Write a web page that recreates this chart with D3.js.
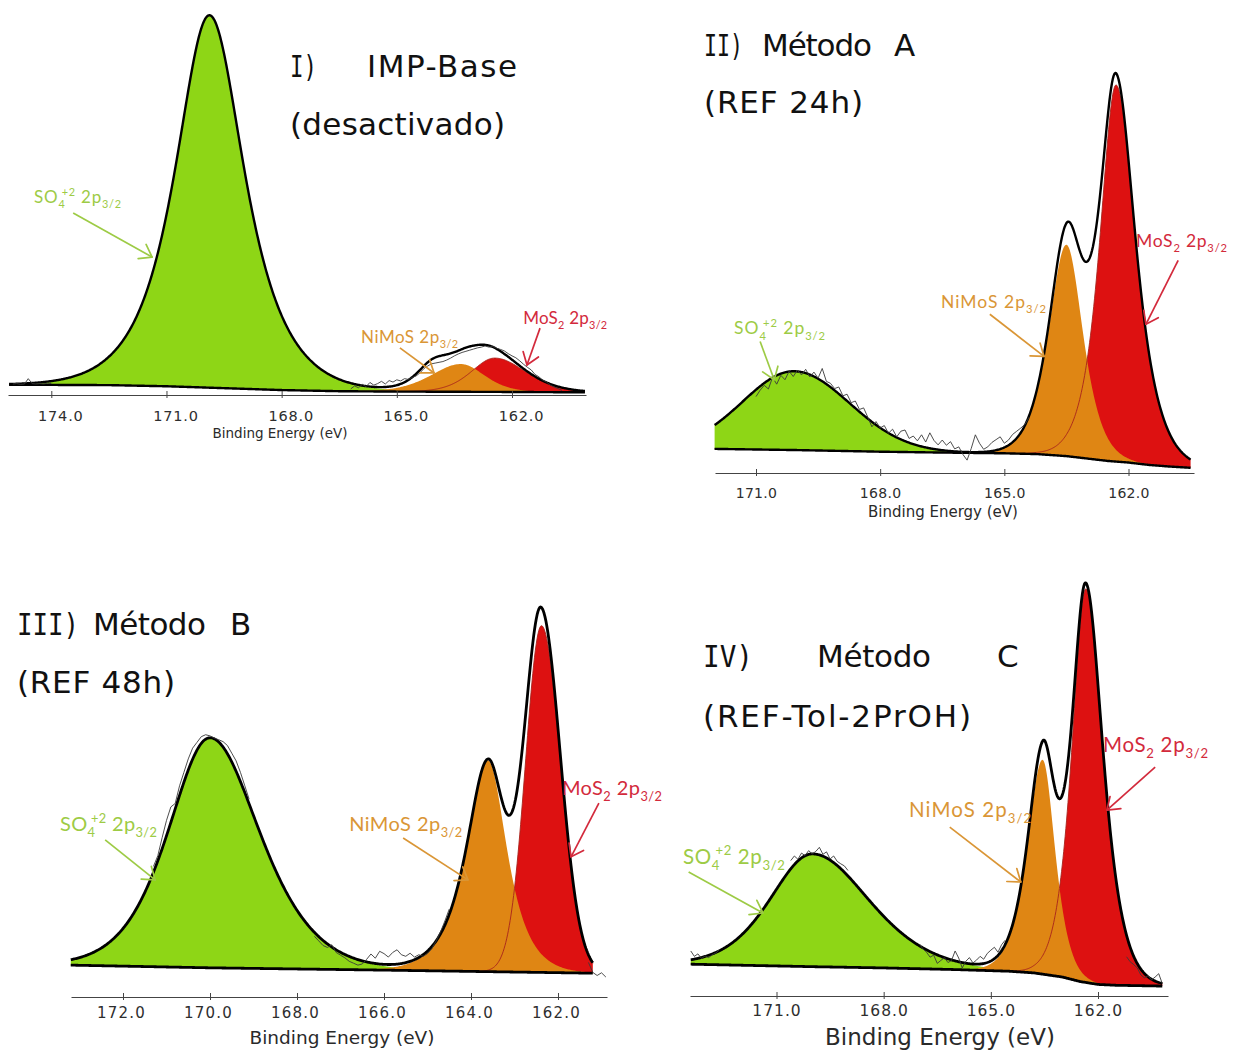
<!DOCTYPE html>
<html>
<head>
<meta charset="utf-8">
<script src="https://cdn.jsdelivr.net/npm/d3@7"></script>
<style>
  body { margin: 0; background: #fff; }
  svg { display: block; }
</style>
</head>
<body>
<svg id="fig" width="1235" height="1050"></svg>
<script>
// Binding energy in eV, intensity in a.u. (100 = tallest point of each panel)

// ---------- I) IMP-Base (desactivado)
const p1Ticks = [174, 171, 168, 165, 162];
const p1Range = [175.1, 160.1];
const p1Background = [[175.1, 2.7], [172.5, 2.6], [171, 2.3], [169.5, 1.8], [168, 1.3], [166.5, 1.0], [165, 0.9], [162, 0.8], [160.1, 0.7]];
const p1Peaks = [
  { kind: "SO4",   center: 169.88, height: 98,  wHigh: 2.15, wLow: 2.2, mix: 0.8 },
  { kind: "NiMoS", center: 163.33, height: 7.3, wHigh: 1.9,  wLow: 1.5, mix: 0.5 },
  { kind: "MoS2",  center: 162.45, height: 8.9, wHigh: 1.5,  wLow: 2.0, mix: 0.5 },
  { kind: "extra", center: 164.1,  height: 3.5, wHigh: 0.9,  wLow: 0.9, mix: 0.5 }
];
const p1Raw = [
  { start: 175.0, values: [2.9, 3.0, 2.8, 2.9, 4.3, 3.0, 2.9, 3.0, 2.9, 3.1, 3.0] },
  { start: 166.2, values: [1.6, 2.4, 1.9, 2.8, 2.2, 3.3, 2.6, 3.0, 3.6, 2.9, 3.8, 3.4, 4.0, 3.7, 4.3, 4.1, 4.6, 5.0, 5.8, 6.9,
                           7.6, 8.2, 8.4, 8.6, 8.8, 9.2, 9.7, 10.3, 10.8, 11.2, 11.5, 11.8, 12.1, 12.4, 12.6, 12.9, 12.6, 12.8, 12.3, 12.0,
                           11.6, 10.9, 10.3, 9.8, 9.0, 8.1, 7.3, 6.6, 5.4, 4.8, 3.9, 3.4, 2.6, 2.1, 1.7, 1.2] }
];

// ---------- II) Método A (REF 24h)
const p2Ticks = [171, 168, 165, 162];
const p2Range = [172.0, 160.5];
const p2Background = [[172.0, 6.0], [170, 5.7], [168, 5.3], [166.6, 5.1], [165, 4.9], [164.2, 4.7], [163.5, 4.2], [163, 3.6], [162.5, 3.0], [162, 2.6], [161.5, 2.0], [161, 1.6], [160.5, 1.3]];
const p2Peaks = [
  { kind: "SO4",   center: 170.08, height: 19.6, wHigh: 2.95, wLow: 3.2,  mix: 0.05 },
  { kind: "NiMoS", center: 163.5,  height: 52.6, wHigh: 1.05, wLow: 0.98, mix: 0.7 },
  { kind: "MoS2",  center: 162.3,  height: 93.7, wHigh: 0.95, wLow: 1.15, mix: 0.75 }
];
const p2Raw = [
  { start: 171.0, values: [19.0, 20.6, 21.8, 20.9, 23.8, 22.1, 24.3, 23.2, 25.3, 24.0, 25.6, 24.4, 25.8, 23.9, 25.1, 23.6, 26.0, 22.8, 22.3, 21.0,
                           21.4, 19.2, 19.6, 17.5, 17.9, 15.8, 16.2, 13.9, 11.5, 12.8, 11.2, 11.8, 9.9, 10.9, 9.0, 10.4, 10.7, 8.6, 9.2, 8.0,
                           9.5, 7.7, 10.0, 8.1, 7.0, 8.2, 6.9, 7.8, 6.0, 6.5, 4.6, 3.2, 6.1, 9.5, 7.4, 5.9, 6.5, 7.6, 8.3, 9.0,
                           7.4, 8.2, 9.6, 10.4, 11.2, 12.1, 13.9] }
];

// ---------- III) Método B (REF 48h)
const p3Ticks = [172, 170, 168, 166, 164, 162];
const p3Range = [173.2, 161.2];
const p3Background = [[173.2, 8.3], [170, 7.6], [166, 7.0], [163, 6.5], [161.2, 6.2]];
const p3Peaks = [
  { kind: "SO4",   center: 170.0,  height: 59.9, wHigh: 2.35, wLow: 2.8,  mix: 0.6 },
  { kind: "NiMoS", center: 163.61, height: 55,   wHigh: 1.2,  wLow: 1.05, mix: 0.8 },
  { kind: "MoS2",  center: 162.38, height: 90.3, wHigh: 0.88, wLow: 1.05, mix: 0.1 }
];
const p3Raw = [
  { start: 171.3, values: [34, 36.8, 41.5, 46, 49.5, 50.4, 55, 58.5, 62, 64.8, 66.3, 67.8, 68.3, 68, 67.4, 67.0, 66.5, 65.5, 63.5, 61.5, 58.5, 55, 51.5] },
  { start: 167.6, values: [15.8, 14.6, 13.4, 12.9, 13.6, 11.6, 10.9, 10.2, 9.3, 8.8, 8.3, 8.6, 9.8, 11.2, 10.1, 11.9, 11.3, 10.4, 11.6, 12.3,
                           11.0, 10.6, 11.4, 10.4, 11.0, 10.6, 11.3, 12.6, 14.6, 17.0, 19.8, 22.9] },
  { start: 161.3, values: [9.0, 6.4, 5.6, 6.3, 5.2] }
];

// ---------- IV) Método C (REF-Tol-2PrOH)
const p4Ticks = [171, 168, 165, 162];
const p4Range = [173.4, 160.2];
const p4Background = [[173.4, 7.7], [170, 7.1], [168, 6.8], [166, 6.4], [164.5, 6.0], [163.8, 5.6], [163, 4.6], [162.5, 3.5], [162, 2.8], [161.5, 2.6], [160.2, 2.4]];
const p4Peaks = [
  { kind: "SO4",   center: 169.99, height: 27.3, wHigh: 2.9,  wLow: 3.9,  mix: 0.5 },
  { kind: "NiMoS", center: 163.55, height: 51.9, wHigh: 1.05, wLow: 0.85, mix: 0.7 },
  { kind: "MoS2",  center: 162.34, height: 95.3, wHigh: 0.95, wLow: 1.18, mix: 0.7 }
];
const p4Raw = [
  { start: 173.4, values: [10.9, 9.6, 10.2, 9.1, 9.7, 9.3, 10.0, 10.4, 11.2] },
  { start: 170.6, values: [32.8, 33.9, 33.1, 34.6, 34.0, 35.2, 34.4, 35.0, 36.0, 34.3, 34.9, 33.2, 33.9, 32.6, 32.0, 31.5, 30.4] },
  { start: 167.0, values: [12.6, 11.4, 10.6, 9.4, 9.9, 7.9, 8.6, 9.3, 8.1, 8.6, 10.9, 9.2, 6.8, 8.4, 9.3, 8.0, 8.7, 9.6, 8.9, 10.3,
                           11.1, 11.8, 10.6, 12.4, 13.5] },
  { start: 161.2, values: [9.5, 8.3, 7.6, 6.8, 5.1, 4.4, 4.9, 3.9, 4.6, 5.4, 3.0] }
];

// ---------- layout and styles
const fillColor = { SO4: "#8ed616", NiMoS: "#df8614", MoS2: "#dd1111" };
const textColor = { SO4: "#9dcb45", NiMoS: "#da9636", MoS2: "#d32a3c" };
const labelParts = {
  SO4:   [["SO", "base"], ["4", "sub"], ["+2", "sup"], [" 2p", "base"], ["3/2", "sub"]],
  NiMoS: [["NiMoS 2p", "base"], ["3/2", "sub"]],
  MoS2:  [["MoS", "base"], ["2", "sub"], [" 2p", "base"], ["3/2", "sub"]]
};

const panels = [
  {
    ticks: p1Ticks, range: p1Range, background: p1Background, peaks: p1Peaks, raw: p1Raw,
    anchors: [[174, 51.3], [162, 512]], axisX: [8, 586], axisY: 395, topY: 15,
    tickFont: 14.5, tickSpacing: 0.8, tickDx: 9, tickDy: 21, lineW: 2.4,
    axisTitle: { x: 280, y: 433, size: 13.5 },
    annSize: 17,
    notes: [
      { kind: "SO4",   at: [174.45, 50.5], from: [173.43, 47.9], to: [171.375, 36.3], len: 87 },
      { kind: "NiMoS", at: [165.93, 13.7], from: [164.92, 12.4], to: [164.03, 5.8], len: 97 },
      { kind: "MoS2",  at: [161.71, 18.7], from: [161.27, 17.6], to: [161.61, 7.9], len: 84 }
    ],
    title: [
      { t: "I)", x: 290, y: 77, mono: true, len: 27 },
      { t: "IMP-Base", x: 517, y: 77, anchor: "end", len: 150 },
      { t: "(desactivado)", x: 290, y: 135, len: 215 }
    ]
  },
  {
    ticks: p2Ticks, range: p2Range, background: p2Background, peaks: p2Peaks, raw: p2Raw,
    anchors: [[171, 756], [162, 1128.5]], axisX: [715, 1194], axisY: 473, topY: 71,
    tickFont: 14, tickSpacing: 0.3, tickDx: 0, tickDy: 20, lineW: 2.4,
    axisTitle: { x: 943, y: 512, size: 15 },
    annSize: 17.5,
    notes: [
      { kind: "SO4",   at: [171.53, 34.5], from: [170.9, 32.7], to: [170.56, 23.2], len: 91 },
      { kind: "NiMoS", at: [166.53, 41.1], from: [165.35, 39.5], to: [164.04, 29.0], len: 105 },
      { kind: "MoS2",  at: [161.82, 56.2], from: [160.8, 52.9], to: [161.58, 37.0], len: 91 }
    ],
    title: [
      { t: "II)", x: 704, y: 56, mono: true, len: 39 },
      { t: "Método", x: 762, y: 56, len: 110 },
      { t: "A", x: 894, y: 56 },
      { t: "(REF 24h)", x: 704, y: 113, len: 159 }
    ]
  },
  {
    ticks: p3Ticks, range: p3Range, background: p3Background, peaks: p3Peaks, raw: p3Raw,
    anchors: [[172, 123], [162, 558]], axisX: [71, 607], axisY: 997, topY: 613,
    tickFont: 15, tickSpacing: 1.2, tickDx: -2, tickDy: 16, lineW: 2.8,
    axisTitle: { x: 342, y: 1038, size: 18.5 },
    annSize: 20,
    notes: [
      { kind: "SO4",   at: [173.45, 43.2], from: [172.41, 40.9], to: [171.26, 30.5], len: 97 },
      { kind: "NiMoS", at: [166.8, 43.2],  from: [165.56, 41.4], to: [164.07, 30.5], len: 113 },
      { kind: "MoS2",  at: [161.91, 52.6], from: [161.06, 50.5], to: [161.7, 36.5], len: 100 }
    ],
    title: [
      { t: "III)", x: 17, y: 635, mono: true, len: 62 },
      { t: "Método", x: 93, y: 635, len: 113 },
      { t: "B", x: 230, y: 635 },
      { t: "(REF 48h)", x: 17, y: 693, len: 158 }
    ]
  },
  {
    ticks: p4Ticks, range: p4Range, background: p4Background, peaks: p4Peaks, raw: p4Raw,
    anchors: [[171, 776.5], [162, 1098]], axisX: [690, 1168], axisY: 996, topY: 583,
    tickFont: 15.5, tickSpacing: 1, tickDx: 0, tickDy: 15, lineW: 2.8,
    axisTitle: { x: 940, y: 1037, size: 23 },
    annSize: 20.5,
    notes: [
      { kind: "SO4",   at: [173.62, 32.0], from: [173.46, 30.0], to: [171.38, 20.1], len: 102 },
      { kind: "NiMoS", at: [167.29, 43.3], from: [166.15, 40.9], to: [164.16, 27.6], len: 122 },
      { kind: "MoS2",  at: [161.86, 59.1], from: [160.4, 55.4], to: [161.75, 45.0], len: 105 }
    ],
    title: [
      { t: "IV)", x: 703, y: 667, mono: true, len: 50 },
      { t: "Método", x: 817, y: 667, len: 114 },
      { t: "C", x: 997, y: 667 },
      { t: "(REF-Tol-2PrOH)", x: 703, y: 727, len: 268 }
    ]
  }
];

// Gaussian-Lorentzian product line shape, separate widths on each side
function lineShape(E, p) {
  const d = E - p.center;
  const w = d >= 0 ? p.wHigh : p.wLow;
  const t = (d * d) / (w * w);
  return p.height * Math.exp(-4 * Math.LN2 * (1 - p.mix) * t) / (1 + 4 * p.mix * t);
}

const svg = d3.select("#fig");

function drawArrow(g, a, b, color) {
  g.append("line")
    .attr("x1", a[0]).attr("y1", a[1]).attr("x2", b[0]).attr("y2", b[1])
    .attr("stroke", color).attr("stroke-width", 1.7);
  const ang = Math.atan2(b[1] - a[1], b[0] - a[0]);
  [-1, 1].forEach(s => {
    const an = ang + Math.PI + s * 0.62;
    g.append("line")
      .attr("x1", b[0]).attr("y1", b[1])
      .attr("x2", b[0] + 14 * Math.cos(an)).attr("y2", b[1] + 14 * Math.sin(an))
      .attr("stroke", color).attr("stroke-width", 1.7).attr("stroke-linecap", "round");
  });
}

function drawPanel(p) {
  const x0 = d3.scaleLinear().domain([p.anchors[0][0], p.anchors[1][0]]).range([p.anchors[0][1], p.anchors[1][1]]);
  const x = d3.scaleLinear().domain([x0.invert(p.axisX[0]), x0.invert(p.axisX[1])]).range(p.axisX);
  const y = d3.scaleLinear().domain([0, 100]).range([p.axisY, p.topY]);
  const bg = d3.scaleLinear()
    .domain(p.background.map(d => d[0]))
    .range(p.background.map(d => d[1]))
    .clamp(true);

  const energies = d3.range(p.range[0], p.range[1], -0.02).concat([p.range[1]]);
  const rows = energies.map(E => {
    const r = { E: E, bg: bg(E), sum: 0 };
    p.peaks.forEach(pk => {
      const v = lineShape(E, pk);
      r[pk.kind] = v;
      r.sum += v;
    });
    return r;
  });

  const g = svg.append("g");

  // filled components: green, red, then orange on top
  ["SO4", "MoS2", "NiMoS"].forEach(kind => {
    const area = d3.area()
      .x(d => x(d.E))
      .y0(d => y(d.bg))
      .y1(d => y(d.bg + d[kind]));
    g.append("path").datum(rows)
      .attr("d", area)
      .attr("fill", fillColor[kind]);
  });

  // thin outline of the MoS2 component
  g.append("path").datum(rows)
    .attr("d", d3.line().x(d => x(d.E)).y(d => y(d.bg + d.MoS2)))
    .attr("fill", "none").attr("stroke", "#a8231c").attr("stroke-width", 0.9);

  // background and envelope
  g.append("path").datum(rows)
    .attr("d", d3.line().x(d => x(d.E)).y(d => y(d.bg)))
    .attr("fill", "none").attr("stroke", "#000").attr("stroke-width", p.lineW);
  g.append("path").datum(rows)
    .attr("d", d3.line().x(d => x(d.E)).y(d => y(d.bg + d.sum)))
    .attr("fill", "none").attr("stroke", "#000").attr("stroke-width", p.lineW)
    .attr("stroke-linejoin", "round");

  // measured spectrum
  p.raw.forEach(seg => {
    const pts = seg.values.map((v, i) => [seg.start - i * 0.1, v]);
    g.append("path").datum(pts)
      .attr("d", d3.line().x(d => x(d[0])).y(d => y(d[1])))
      .attr("fill", "none").attr("stroke", "#3a3a3a").attr("stroke-width", 0.9);
  });

  // axis
  const axis = d3.axisBottom(x)
    .tickValues(p.ticks)
    .tickFormat(d3.format(".1f"))
    .tickSizeInner(0)
    .tickSizeOuter(0);
  const ga = svg.append("g")
    .attr("transform", `translate(0,${p.axisY})`)
    .call(axis)
    .attr("font-family", "'DejaVu Sans', Verdana, sans-serif")
    .attr("font-size", p.tickFont);
  ga.select(".domain").attr("stroke", "#444").attr("stroke-width", 1.1);
  ga.selectAll(".tick line").attr("y1", -4).attr("y2", 3).attr("stroke", "#444");
  ga.selectAll(".tick text")
    .attr("y", p.tickDy).attr("dy", "0.35em").attr("dx", p.tickDx)
    .attr("fill", "#2e2e2e")
    .style("letter-spacing", p.tickSpacing + "px");

  svg.append("text")
    .attr("x", p.axisTitle.x).attr("y", p.axisTitle.y)
    .attr("dy", "0.35em")
    .attr("text-anchor", "middle")
    .attr("font-family", "'DejaVu Sans', Verdana, sans-serif")
    .attr("font-size", p.axisTitle.size)
    .attr("fill", "#2a2a2a")
    .text("Binding Energy (eV)");

  // component labels with arrows
  p.notes.forEach(n => {
    const color = textColor[n.kind];
    drawArrow(g, [x(n.from[0]), y(n.from[1])], [x(n.to[0]), y(n.to[1])], color);
    const size = p.annSize;
    const t = g.append("text")
      .attr("x", x(n.at[0])).attr("y", y(n.at[1]))
      .attr("font-family", "Lato, 'Open Sans', sans-serif")
      .attr("font-size", size)
      .attr("fill", color)
      .attr("textLength", n.len)
      .attr("lengthAdjust", "spacing");
    let cur = 0;
    labelParts[n.kind].forEach(([s, k], i) => {
      const target = k === "sub" ? 0.3 * size : k === "sup" ? -0.42 * size : 0;
      const ts = t.append("tspan").text(s).attr("dy", target - cur);
      if (k !== "base") ts.attr("font-size", size * 0.64);
      if (k === "sup" && i > 0 && labelParts[n.kind][i - 1][1] === "sub") ts.attr("dx", -0.22 * size);
      cur = target;
    });
  });

  // panel title
  p.title.forEach(l => {
    const tt = svg.append("text")
      .attr("x", l.x).attr("y", l.y)
      .attr("text-anchor", l.anchor || "start")
      .attr("font-family", l.mono ? "'DejaVu Sans Mono', monospace" : "'DejaVu Sans', Verdana, sans-serif")
      .attr("font-size", 31)
      .attr("fill", "#111")
      .text(l.t);
    if (l.len) tt.attr("textLength", l.len).attr("lengthAdjust", l.mono ? "spacingAndGlyphs" : "spacing");
  });
}

panels.forEach(drawPanel);
</script>
</body>
</html>
